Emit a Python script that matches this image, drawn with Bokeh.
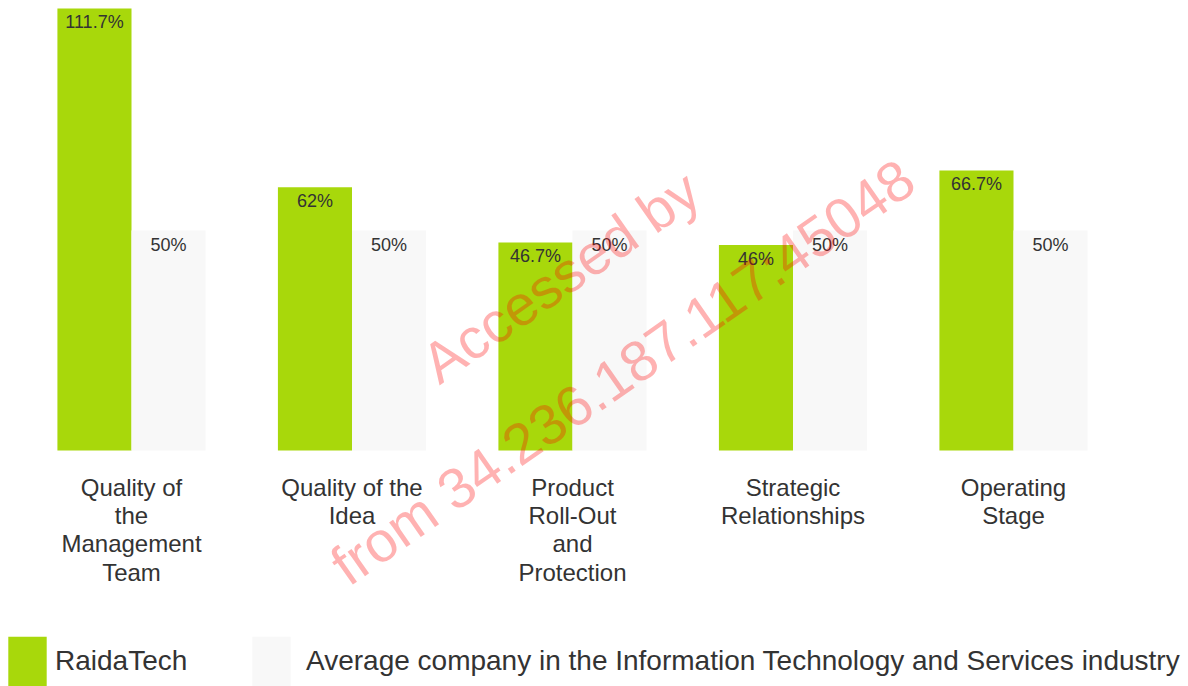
from bokeh.plotting import figure
from bokeh.models import ColumnDataSource, Range1d, Legend, LegendItem, Label
from bokeh.core.properties import value
from bokeh.transform import dodge
from bokeh.embed import file_html
from bokeh.resources import INLINE

categories = ["Quality of\nthe\nManagement\nTeam", "Quality of the\nIdea",
              "Product\nRoll-Out\nand\nProtection", "Strategic\nRelationships",
              "Operating\nStage"]
raida = [111.7, 62, 46.7, 46, 66.7]
average = [50, 50, 50, 50, 50]
raida_labels = ["111.7%", "62%", "46.7%", "46%", "66.7%"]
average_labels = ["50%", "50%", "50%", "50%", "50%"]
series_names = ["RaidaTech",
                "Average company in the Information Technology and Services industry"]

GREEN = "#A8D80B"
GRAY = "#F8F8F8"
TEXT = "#333333"
FONT = "Liberation Sans"
BASE = -11.1
PX = 3.6  # pixels per percentage point

src = ColumnDataSource(dict(idx=list(range(len(categories))), raida=raida, average=average,
                            rl=raida_labels, al=average_labels, cat=categories,
                            base=[BASE] * len(categories)))

p = figure(width=1188, height=686, output_backend="svg", toolbar_location=None,
           x_range=Range1d(-131 / 220.5, (1188 - 131) / 220.5),
           y_range=Range1d(BASE - 236 / PX, BASE + 450 / PX),
           min_border=0)
p.outline_line_color = None
p.grid.visible = False
p.axis.visible = False

w = 0.336
g1 = p.vbar(x=dodge("idx", -w / 2), top="raida", bottom=BASE, width=w, source=src,
            fill_color=GREEN, line_color=None)
g2 = p.vbar(x=dodge("idx", w / 2), top="average", bottom=BASE, width=w, source=src,
            fill_color=GRAY, line_color=None)

p.text(x=dodge("idx", -w / 2), y="raida", text="rl", source=src, text_align="center",
       text_baseline="top", y_offset=4, text_font_size="18px", text_color=TEXT,
       text_font=value(FONT))
p.text(x=dodge("idx", w / 2), y="average", text="al", source=src, text_align="center",
       text_baseline="top", y_offset=4, text_font_size="18px", text_color=TEXT,
       text_font=value(FONT))

# category labels below the bars
p.text(x="idx", y="base", text="cat", source=src, text_align="center",
       text_baseline="top", y_offset=23, text_font_size="24px", text_color=TEXT,
       text_font=value(FONT), text_line_height=1.05)

for txt, cx, cy in [("Accessed by", 1.946, 37.2), ("from 34.236.187.117:45048", 2.227, 10.8)]:
    p.add_layout(Label(x=cx, y=cy, text=txt, angle=0.61, text_align="center",
                       text_baseline="middle", text_color="red", text_alpha=0.3,
                       text_font_size="57px", text_font=FONT))

common = dict(orientation="horizontal", glyph_width=48, glyph_height=62,
              padding=0, margin=0, border_line_color=None, background_fill_alpha=0,
              label_text_font_size="28px", label_text_font=FONT, label_text_color=TEXT)
leg1 = Legend(items=[LegendItem(label=series_names[0], renderers=[g1])],
              location=(3, -6), label_standoff=4, **common)
leg2 = Legend(items=[LegendItem(label=series_names[1], renderers=[g2])],
              location=(247, -6), label_standoff=11, **common)
p.add_layout(leg1, "center")
p.add_layout(leg2, "center")

open("out.html", "w").write(file_html(p, INLINE))
